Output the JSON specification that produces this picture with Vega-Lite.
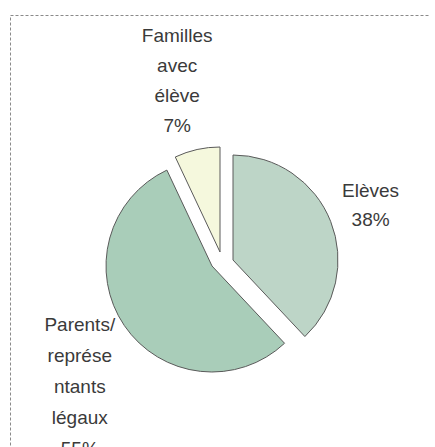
{
  "$schema": "https://vega.github.io/schema/vega-lite/v6.json",
  "width": 420,
  "height": 440,
  "autosize": {"type": "none"},
  "padding": {"left": 10, "top": 15, "right": 0, "bottom": 0},
  "background": "white",
  "view": {"stroke": "#8a8a8a", "strokeDash": [3, 2], "strokeWidth": 1},
  "config": {"view": {"stroke": "#8a8a8a", "strokeDash": [3, 2], "strokeWidth": 1}},
  "data": {"values": [
    {"cat": "Elèves", "ord": 1, "value": 38, "label": "Elèves\n38%"},
    {"cat": "Parents", "ord": 2, "value": 55, "label": "Parents/\nreprése\nntants\nlégaux\n55%"},
    {"cat": "Familles", "ord": 3, "value": 7, "label": "Familles\navec\nélève\n7%"}
  ]},
  "encoding": {
    "theta": {"field": "value", "type": "quantitative", "stack": true},
    "order": {"field": "ord", "type": "quantitative"}
  },
  "layer": [
    {
      "encoding": {"opacity": {"condition": {"test": "datum.cat === 'Parents'", "value": 1}, "value": 0}},
      "layer": [
        {"mark": {"type": "arc", "outerRadius": 106, "fill": "#a9cdb9", "stroke": "#5a5a5a", "strokeWidth": 1, "xOffset": -8, "yOffset": 31}},
        {"mark": {"type": "text", "radius": 178, "xOffset": -8, "yOffset": 31, "dx": 15, "dy": -41, "font": "Liberation Sans", "fontSize": 19, "lineHeight": 31, "lineBreak": "\n", "color": "#3a3a3a", "align": "center", "baseline": "middle"},
         "encoding": {"text": {"field": "label"}}}
      ]
    },
    {
      "encoding": {"opacity": {"condition": {"test": "datum.cat === 'Elèves'", "value": 1}, "value": 0}},
      "layer": [
        {"mark": {"type": "arc", "outerRadius": 105, "fill": "#bdd5c7", "stroke": "#5a5a5a", "strokeWidth": 1, "xOffset": 13, "yOffset": 25}},
        {"mark": {"type": "text", "radius": 148, "xOffset": 13, "yOffset": 25, "dy": -15, "font": "Liberation Sans", "fontSize": 19, "lineHeight": 29, "lineBreak": "\n", "color": "#3a3a3a", "align": "center", "baseline": "middle"},
         "encoding": {"text": {"field": "label"}}}
      ]
    },
    {
      "encoding": {"opacity": {"condition": {"test": "datum.cat === 'Familles'", "value": 1}, "value": 0}},
      "layer": [
        {"mark": {"type": "arc", "outerRadius": 105, "fill": "#f5f8dd", "stroke": "#5a5a5a", "strokeWidth": 1, "xOffset": 0, "yOffset": 17}},
        {"mark": {"type": "text", "radius": 178, "xOffset": 0, "yOffset": 17, "dx": -4, "dy": -42, "font": "Liberation Sans", "fontSize": 19, "lineHeight": 30, "lineBreak": "\n", "color": "#3a3a3a", "align": "center", "baseline": "middle"},
         "encoding": {"text": {"field": "label"}}}
      ]
    }
  ]
}
